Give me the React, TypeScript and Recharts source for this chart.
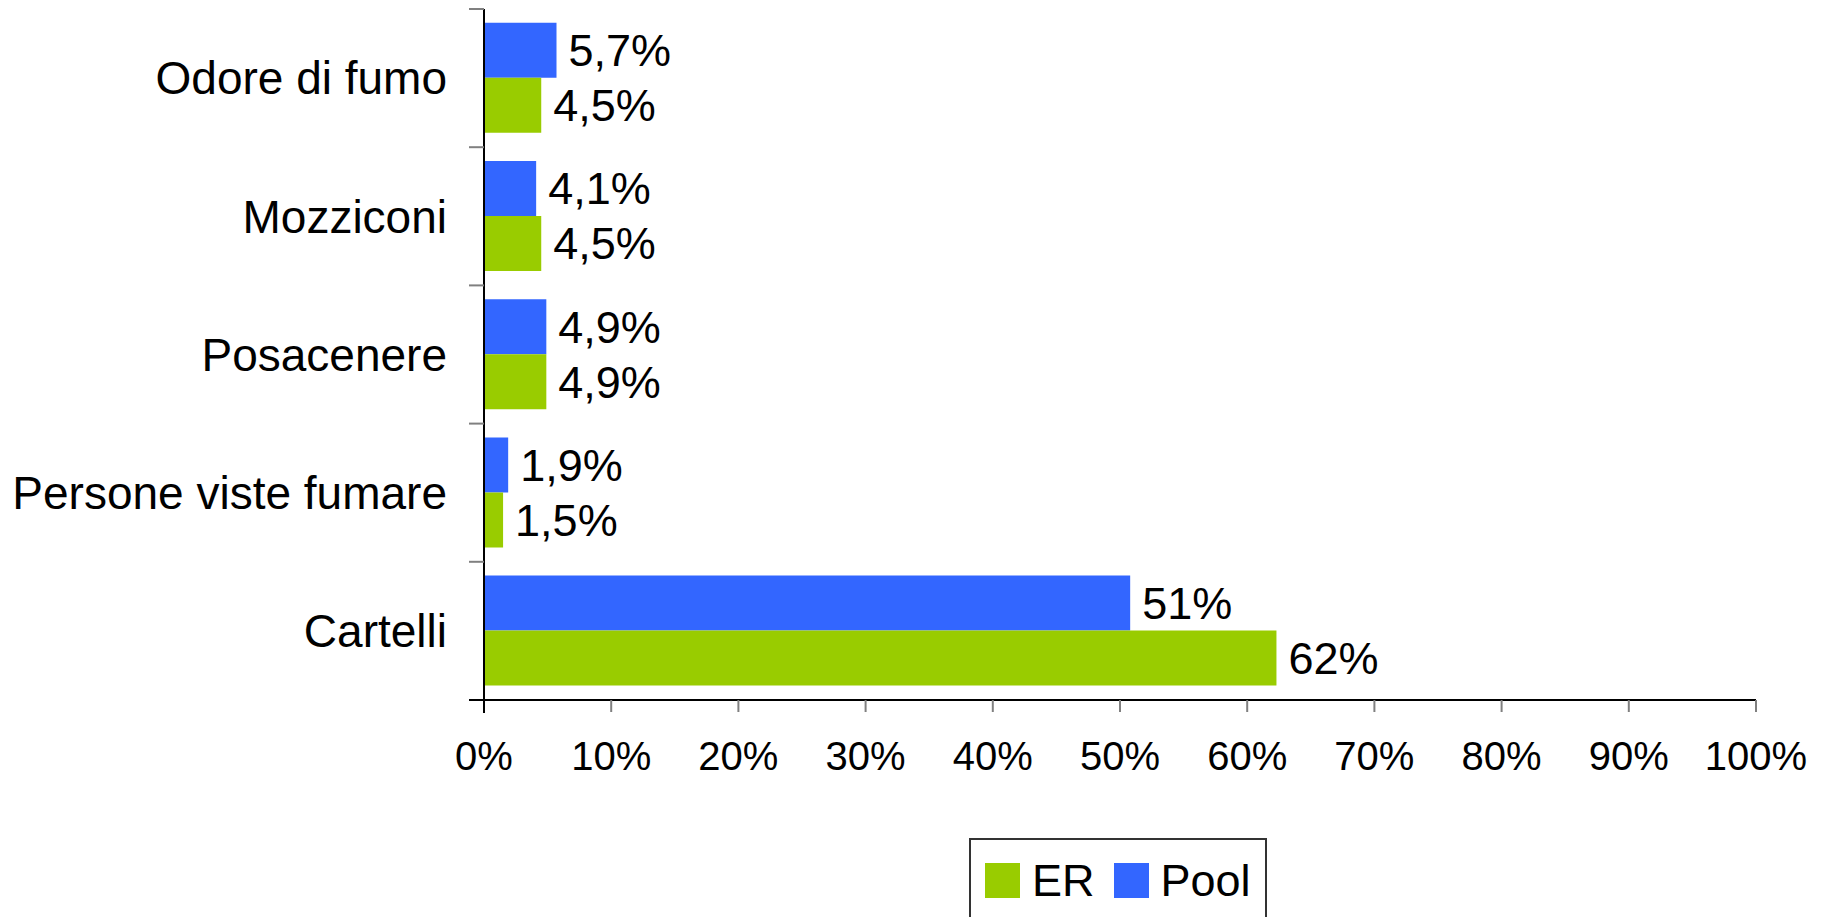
import { BarChart, Bar, XAxis, YAxis, Legend, LabelList } from 'recharts';

const categories = ['Odore di fumo', 'Mozziconi', 'Posacenere', 'Persone viste fumare', 'Cartelli'];
const poolValues = [5.7, 4.1, 4.9, 1.9, 50.8];
const erValues = [4.5, 4.5, 4.9, 1.5, 62.3];
const xTicks = [0, 10, 20, 30, 40, 50, 60, 70, 80, 90, 100];

const series = [
  { key: 'ER', color: '#99CC00' },
  { key: 'Pool', color: '#3366FF' }
];

const data = categories.map((name, i) => ({ name, Pool: poolValues[i], ER: erValues[i] }));

const fmt = (v: number) => (v >= 10 ? `${Math.round(v)}%` : `${v.toFixed(1).replace('.', ',')}%`);

const TICK_LEN = 15;
const TICK_GAP = 22;

function CategoryTick(props: any) {
  const { x, y, payload, index } = props;
  const half = payload.offset ?? 69.2;
  const axisX = x + TICK_GAP + TICK_LEN;
  const last = index === categories.length - 1;
  return (
    <g>
      <line x1={axisX - TICK_LEN} x2={axisX} y1={y - half} y2={y - half} stroke="#808080" strokeWidth={2} />
      {last && (
        <>
          <line x1={axisX - TICK_LEN} x2={axisX} y1={y + half} y2={y + half} stroke="#000" strokeWidth={2} />
          <line x1={axisX} x2={axisX} y1={y + half} y2={y + half + 13} stroke="#000" strokeWidth={2} />
        </>
      )}
      <text x={x} y={y} dy="0.355em" textAnchor="end" fontSize={46} fill="#000">
        {payload.value}
      </text>
    </g>
  );
}

function LegendBox() {
  return (
    <div
      style={{
        width: 298,
        height: 100,
        border: '2px solid #333',
        boxSizing: 'border-box',
        display: 'flex',
        alignItems: 'flex-start',
        paddingLeft: 14,
        paddingTop: 23
      }}
    >
      {series.map((s, i) => (
        <div key={s.key} style={{ display: 'flex', alignItems: 'center', marginLeft: i === 0 ? 0 : 19 }}>
          <span style={{ width: 35, height: 35, background: s.color, display: 'inline-block' }} />
          <span style={{ marginLeft: 12, fontSize: 45, lineHeight: '35px', color: '#000' }}>{s.key}</span>
        </div>
      ))}
    </div>
  );
}

export default function App() {
  return (
    <div
      style={{
        position: 'absolute',
        left: 0,
        top: 0,
        width: 1825,
        height: 917,
        overflow: 'hidden',
        background: '#fff',
        fontFamily: '"Liberation Sans", Arial, sans-serif'
      }}
    >
      <BarChart
        width={1825}
        height={917}
        data={data}
        layout="vertical"
        margin={{ top: 9, right: 69, left: 0, bottom: 137 }}
        barCategoryGap="10%"
        barGap={0}
      >
        <XAxis
          type="number"
          domain={[0, 100]}
          ticks={xTicks}
          interval={0}
          tickFormatter={(v: number) => `${v}%`}
          axisLine={{ stroke: '#000', strokeWidth: 2 }}
          tickLine={{ stroke: '#808080', strokeWidth: 2 }}
          tickSize={12}
          tickMargin={30}
          height={80}
          tick={{ fill: '#000', fontSize: 40 }}
        />
        <YAxis
          type="category"
          dataKey="name"
          width={484}
          axisLine={{ stroke: '#000', strokeWidth: 2 }}
          tickLine={false}
          tickSize={TICK_LEN}
          tickMargin={TICK_GAP}
          interval={0}
          tick={<CategoryTick />}
        />
        <Legend
          verticalAlign="middle"
          align="center"
          layout="horizontal"
          wrapperStyle={{ left: 969, top: 838, width: 298 }}
          content={<LegendBox />}
        />
        <Bar dataKey="Pool" fill="#3366FF" isAnimationActive={false}>
          <LabelList dataKey="Pool" position="right" offset={12} formatter={(v: any) => fmt(Number(v))} fill="#000" fontSize={45} />
        </Bar>
        <Bar dataKey="ER" fill="#99CC00" isAnimationActive={false}>
          <LabelList dataKey="ER" position="right" offset={12} formatter={(v: any) => fmt(Number(v))} fill="#000" fontSize={45} />
        </Bar>
      </BarChart>
    </div>
  );
}
